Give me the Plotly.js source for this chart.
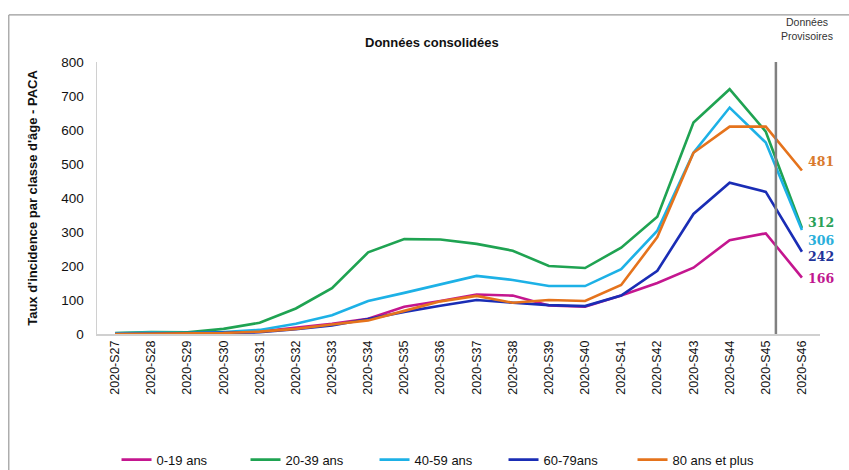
<!DOCTYPE html>
<html>
<head>
<meta charset="utf-8">
<script src="https://cdn.plot.ly/plotly-3.0.1.min.js"></script>
<style>
html,body{margin:0;padding:0;background:#fff;}
#chart{width:849px;height:470px;}
</style>
</head>
<body>
<div id="chart"></div>
<script>
const weeks = ["2020-S27","2020-S28","2020-S29","2020-S30","2020-S31","2020-S32","2020-S33","2020-S34","2020-S35","2020-S36","2020-S37","2020-S38","2020-S39","2020-S40","2020-S41","2020-S42","2020-S43","2020-S44","2020-S45","2020-S46"];
const seriesNames = ["0-19 ans","20-39 ans","40-59 ans","60-79ans","80 ans et plus"];
const age0_19  = [1,2,2,4,7,18,30,45,80,97,116,113,84,80,113,150,195,276,296,166];
const age20_39 = [3,6,5,15,33,75,135,240,279,278,265,245,200,194,254,345,622,720,595,312];
const age40_59 = [2,4,3,6,12,30,55,97,121,147,171,159,141,141,191,304,533,666,563,306];
const age60_79 = [0,1,1,2,5,14,25,44,65,83,100,92,85,82,113,186,353,445,418,242];
const age80p   = [0,1,1,3,7,15,28,40,68,96,112,92,100,97,144,285,533,610,610,481];
const seriesValues = [age0_19, age20_39, age40_59, age60_79, age80p];
const colors = ["#C4168F","#1FA352","#1DB1E6","#1A2DB5","#E5731C"];
const labelColors = ["#C0168F","#2AA158","#2AAFDB","#1F3399","#D97A2E"];
const labelShift = [-1,5,-11,-5,9];
const yTicks = [0,100,200,300,400,500,600,700,800];

const font = "Liberation Sans, Arial, sans-serif";

const traces = seriesNames.map((n,i)=>({
  type:"scatter", mode:"lines", name:n, x:weeks, y:seriesValues[i],
  line:{color:colors[i], width:2.6}, hoverinfo:"skip"
}));

const annotations = seriesNames.map((n,i)=>{
  const v = seriesValues[i][seriesValues[i].length-1];
  return {x:weeks[weeks.length-1], y:v, xref:"x", yref:"y", text:"<b>"+v+"</b>",
    showarrow:false, xanchor:"left", xshift:4, yshift:labelShift[i],
    font:{family:"DejaVu Serif, Liberation Serif, serif", size:12.5, color:labelColors[i]}};
});
annotations.push({xref:"paper", yref:"paper", x:0.464, y:1.07, text:"<b>Données consolidées</b>",
  showarrow:false, xanchor:"center", yanchor:"middle", font:{family:font, size:13, color:"#111"}});
annotations.push({xref:"paper", yref:"paper", x:0.982, y:1.12, text:"Données<br>Provisoires",
  showarrow:false, xanchor:"center", yanchor:"middle", font:{family:"Liberation Sans Narrow, Liberation Sans, Arial", size:10.5, color:"#333"}});

const layout = {
  width:849, height:470,
  margin:{l:97, r:29, t:62, b:136},
  paper_bgcolor:"#fff", plot_bgcolor:"#fff",
  showlegend:true,
  legend:{orientation:"h", x:0.027, y:0.022, yref:"container", xanchor:"left", yanchor:"middle",
    font:{family:font, size:13, color:"#111"}, entrywidth:84, entrywidthmode:"pixels", itemwidth:30},
  xaxis:{type:"category", range:[-0.5,19.5], tickangle:-90, showgrid:false, zeroline:false,
    showline:true, linecolor:"#d0d0d0", linewidth:1.5, ticks:"", automargin:false,
    tickfont:{family:font, size:12.5, color:"#111"}},
  yaxis:{range:[0,800], tickvals:yTicks, showgrid:false, zeroline:false, automargin:false,
    showline:true, linecolor:"#d0d0d0", linewidth:1.5, ticks:"", ticklen:0, ticklabelstandoff:9,
    tickfont:{family:font, size:13.5, color:"#111"},
    title:{text:"<b>Taux d'incidence par classe d'âge - PACA</b>", standoff:20,
      font:{family:font, size:13, color:"#111"}}},
  shapes:[
    {type:"line", xref:"x", yref:"y", x0:18.28, x1:18.28, y0:0, y1:800,
      line:{color:"#808080", width:2.5}},
    {type:"line", xref:"paper", yref:"paper", x0:-0.122, x1:1.1, y0:1.173, y1:1.173,
      line:{color:"#9a9a9a", width:1.2}},
    {type:"line", xref:"paper", yref:"paper", x0:-0.122, x1:-0.122, y0:1.173, y1:-0.6,
      line:{color:"#9a9a9a", width:1.2}}
  ],
  annotations:annotations
};
Plotly.newPlot("chart", traces, layout, {displayModeBar:false, staticPlot:true});
</script>
</body>
</html>
